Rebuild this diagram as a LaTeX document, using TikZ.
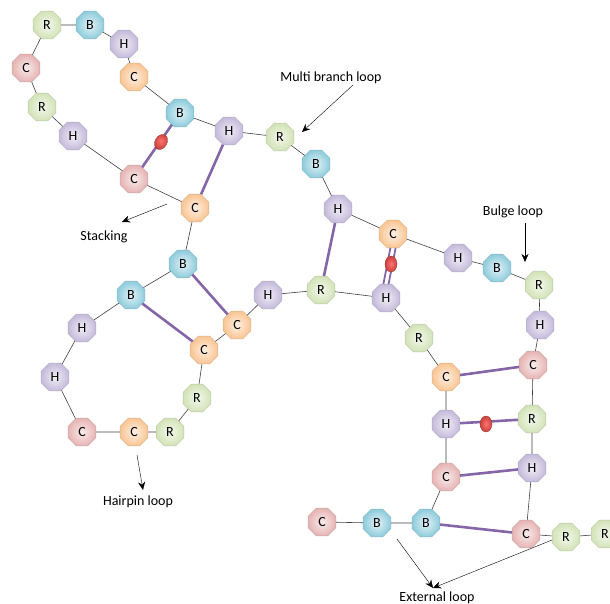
\documentclass[tikz,border=0pt]{standalone}
\usepackage{fontspec}
\setmainfont{Carlito}
\usetikzlibrary{shapes.geometric, arrows.meta}

\definecolor{colR}{HTML}{D3E3B8}
\definecolor{colB}{HTML}{8FCCDC}
\definecolor{colH}{HTML}{C5BBDB}
\definecolor{colO}{HTML}{F9C593}
\definecolor{colP}{HTML}{E6B4B3}
\definecolor{pairline}{HTML}{8466A8}
\definecolor{dotred}{HTML}{C8423C}

\newcommand{\basefont}{\fontsize{14}{16}\selectfont}

\tikzset{
  base/.style={regular polygon, regular polygon sides=8, minimum size=30pt,
    inner sep=0pt, draw=#1!70!gray, line width=0.3pt,
    inner color=#1!25!white, outer color=#1},
  nR/.style={base=colR},
  nB/.style={base=colB},
  nH/.style={base=colH},
  nO/.style={base=colO},
  nP/.style={base=colP},
  chain/.style={draw=black!75, line width=0.6pt},
  pair/.style={draw=pairline, line width=2.6pt},
  blob/.style={ellipse, minimum width=12pt, minimum height=16pt, inner sep=0pt,
    inner color=red!55!white, outer color=dotred, draw=dotred!80!black, line width=0.3pt},
  tag/.style={font=\fontsize{14}{16}\selectfont}
}

\begin{document}
\begin{tikzpicture}[x=1pt, y=-1pt, >={Stealth[length=8pt, width=7pt]},
  every node/.append style={font=\basefont}]

  \useasboundingbox (0,0) rectangle (610,604);

  % 1. Boucle du haut
  \node[nR] (r1) at (47,25) {R};
  \node[nB] (b1) at (90,25) {B};
  \node[nH] (h1) at (124,44) {H};
  \node[nO] (c1) at (134,77) {C};
  \node[nP] (c2) at (26,68) {C};
  \node[nR] (r2) at (42,107) {R};
  \node[nH] (h2) at (73,136) {H};
  \node[nB] (b2) at (180,113) {B};
  \node[nP] (c3) at (134,179) {C};

  % 2. Chemin vers la droite
  \node[nH] (h3) at (229,131) {H};
  \node[nR] (r3) at (280,137) {R};
  \node[nB] (b3) at (316,164) {B};
  \node[nH] (h4) at (338,209) {H};
  \node[nO] (c4) at (393,234) {C};
  \node[nH] (h5) at (458,258) {H};
  \node[nB] (b4) at (497,268) {B};
  \node[nR] (r4) at (539,285) {R};
  \node[nH] (h6) at (540,325) {H};
  \node[nP] (c5) at (533,365) {C};
  \node[nR] (r5) at (532,419) {R};
  \node[nH] (h7) at (532,468) {H};
  \node[nP] (c6) at (526,534) {C};
  \node[nR] (r6) at (566,537) {R};
  \node[nR] (r7) at (605,534) {R};

  % 3. Boucle en epingle
  \node[nO] (c7) at (195,208) {C};
  \node[nB] (b5) at (183,264) {B};
  \node[nB] (b6) at (131,295) {B};
  \node[nH] (h8) at (82,328) {H};
  \node[nH] (h9) at (55,377) {H};
  \node[nP] (c8) at (82,432) {C};
  \node[nO] (c9) at (134,432) {C};
  \node[nR] (r8) at (170,432) {R};
  \node[nR] (r9) at (197,398) {R};
  \node[nO] (c10) at (204,350) {C};
  \node[nO] (c11) at (237,325) {C};

  % 4. Tige du bas
  \node[nH] (h10) at (268,295) {H};
  \node[nR] (r10) at (321,290) {R};
  \node[nH] (h11) at (386,298) {H};
  \node[nR] (r11) at (419,338) {R};
  \node[nO] (c12) at (446,377) {C};
  \node[nH] (h12) at (446,424) {H};
  \node[nP] (c13) at (446,477) {C};
  \node[nB] (b7) at (426,523) {B};
  \node[nB] (b8) at (377,523) {B};
  \node[nP] (c14) at (322,522) {C};

  % 5. Squelette (traits fins)
  \draw[chain] (c2) -- (r1) -- (b1) -- (h1) -- (c1) -- (b2) -- (h3) -- (r3) -- (b3)
    -- (h4) -- (c4) -- (h5) -- (b4) -- (r4) -- (h6) -- (c5) -- (r5) -- (h7) -- (c6)
    -- (r6) -- (r7);
  \draw[chain] (c2) -- (r2) -- (h2) -- (c3) -- (c7) -- (b5) -- (b6) -- (h8) -- (h9)
    -- (c8) -- (c9) -- (r8) -- (r9) -- (c10) -- (c11) -- (h10) -- (r10) -- (h11)
    -- (r11) -- (c12) -- (h12) -- (c13) -- (b7) -- (b8) -- (c14);

  % 6. Appariements (traits epais)
  \draw[pair] (b2) -- (c3);
  \draw[pair] (h3) -- (c7);
  \draw[pair] (b5) -- (c11);
  \draw[pair] (b6) -- (c10);
  \draw[pair] (h4) -- (r10);
  \draw[pair, line width=1.8pt] ([xshift=-2.6pt]c4.south) -- ([xshift=-2.6pt]h11.north);
  \draw[pair, line width=1.8pt] ([xshift=2.6pt]c4.south) -- ([xshift=2.6pt]h11.north);
  \draw[pair] (c12) -- (c5);
  \draw[pair] (h12) -- (r5);
  \draw[pair] (c13) -- (h7);
  \draw[pair] (b7) -- (c6);

  % Points rouges
  \node[blob, rotate=-30] (d1) at (161,142) {};
  \node[blob] (d2) at (391,264) {};
  \node[blob] (d3) at (486,424) {};

  % 7. Legendes et fleches
  \node[tag] (multi) at (331,78) {Multi branch loop};
  \draw[->] (353,85) -- (302,132);

  \node[tag] (stack) at (104,237) {Stacking};
  \draw[->] (167,204) -- (122,222);

  \node[tag] (bulge) at (513,212) {Bulge loop};
  \draw[->] (525,223) -- (525,262);

  \node[tag] (hairpin) at (138,502) {Hairpin loop};
  \draw[->] (137,455) -- (143,490);

  \node[tag] (extern) at (437,598) {External loop};
  \coordinate (ext) at (433,588);
  \draw[->] (397,539) -- (ext);
  \draw[->] (552,540) -- (ext);

\end{tikzpicture}
\end{document}
